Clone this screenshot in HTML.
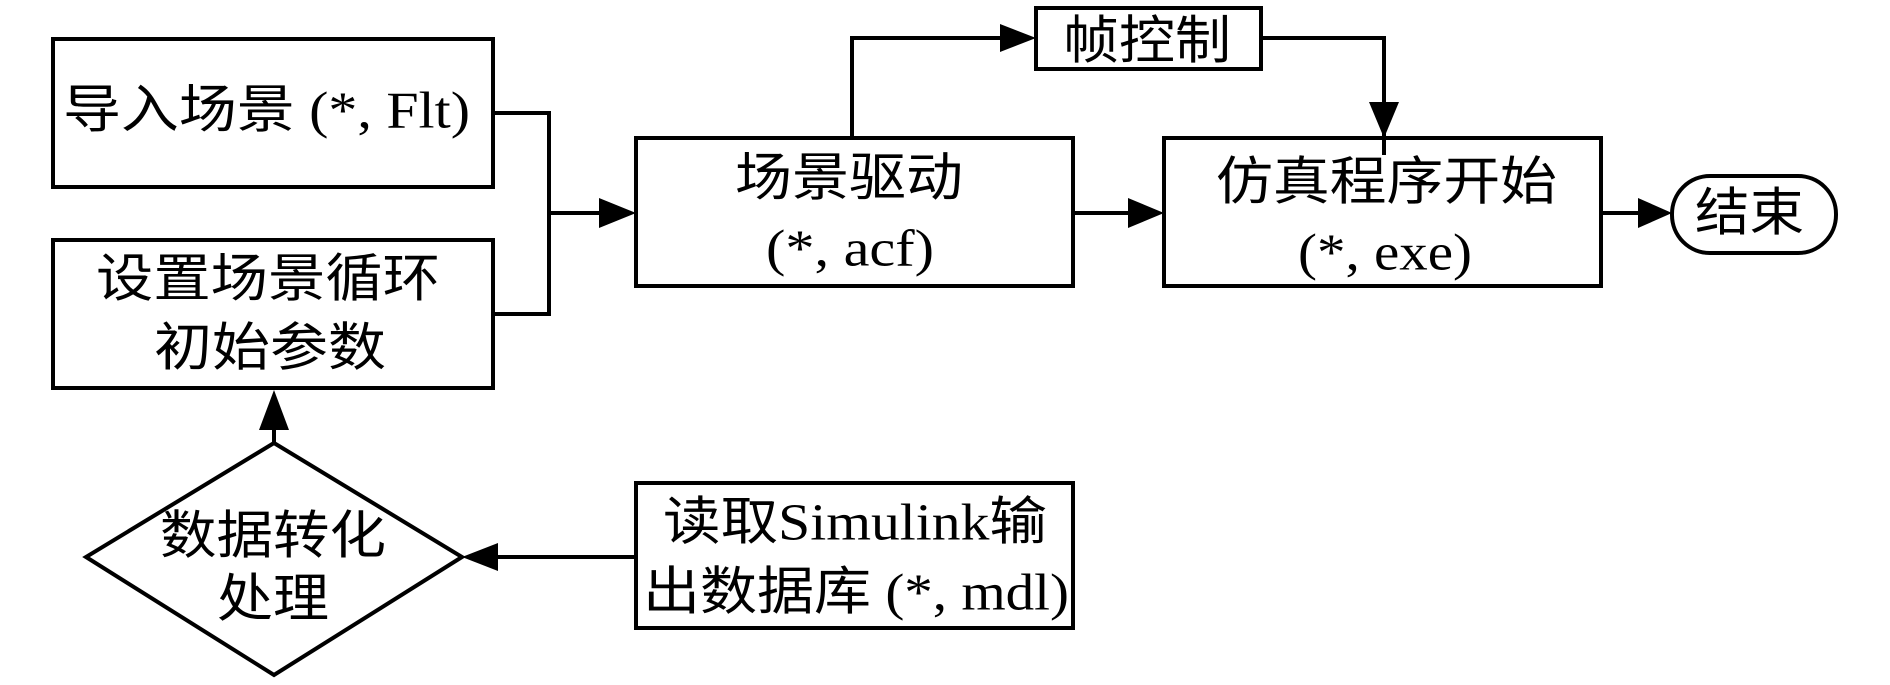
<!DOCTYPE html>
<html><head><meta charset="utf-8"><style>
html,body{margin:0;padding:0;background:#fff;}
svg{display:block;}
text{font-family:"Liberation Serif","Noto Sans CJK SC",serif;font-size:52px;fill:#000;dominant-baseline:central;}
</style></head><body>
<svg width="1890" height="685" viewBox="0 0 1890 685" xmlns="http://www.w3.org/2000/svg">
<g fill="none" stroke="#000" stroke-width="4">
<rect x="53" y="39" width="440" height="148"/>
<rect x="53" y="240" width="440" height="148"/>
<rect x="636" y="138" width="437" height="148"/>
<rect x="1036" y="8" width="225" height="61"/>
<rect x="1164" y="138" width="437" height="148"/>
<rect x="1672" y="176" width="164" height="77" rx="38"/>
<rect x="636" y="483" width="437" height="145"/>
<polygon points="274,443 462,557 274,675 86,557"/>
<polyline points="493,113 549,113 549,314 493,314"/>
<line x1="549" y1="213" x2="600" y2="213"/>
<polyline points="852,138 852,38 1000,38"/>
<polyline points="1261,38 1384,38 1384,155"/>
<line x1="1073" y1="213" x2="1130" y2="213"/>
<line x1="1601" y1="213" x2="1640" y2="213"/>
<line x1="636" y1="557" x2="498" y2="557"/>
<line x1="274" y1="443" x2="274" y2="425"/>
</g>
<g fill="#000">
<polygon points="636,213 599,198 599,228"/>
<polygon points="1036,38 1000,24 1000,52"/>
<polygon points="1384,138 1369,102 1399,102"/>
<polygon points="1164,213 1128,198 1128,228"/>
<polygon points="1672,213 1638,198 1638,228"/>
<polygon points="462,557 498,543 498,571"/>
<polygon points="274,390 259,430 289,430"/>
</g>
<text x="63" y="111" textLength="407" lengthAdjust="spacingAndGlyphs">导入场景 (*, Flt)</text>
<text x="96" y="280" textLength="344" lengthAdjust="spacingAndGlyphs">设置场景循环</text>
<text x="154" y="349" textLength="232" lengthAdjust="spacingAndGlyphs">初始参数</text>
<text x="735" y="179" textLength="228" lengthAdjust="spacingAndGlyphs">场景驱动</text>
<text x="766" y="249" textLength="168" lengthAdjust="spacingAndGlyphs">(*, acf)</text>
<text x="1063" y="42" textLength="168" lengthAdjust="spacingAndGlyphs">帧控制</text>
<text x="1216" y="183" textLength="341" lengthAdjust="spacingAndGlyphs">仿真程序开始</text>
<text x="1298" y="253" textLength="174" lengthAdjust="spacingAndGlyphs">(*, exe)</text>
<text x="1695" y="214" textLength="109" lengthAdjust="spacingAndGlyphs">结束</text>
<text x="160" y="537" textLength="226" lengthAdjust="spacingAndGlyphs">数据转化</text>
<text x="217" y="600" textLength="112" lengthAdjust="spacingAndGlyphs">处理</text>
<text x="663" y="523" textLength="384" lengthAdjust="spacingAndGlyphs">读取Simulink输</text>
<text x="643" y="593" textLength="426" lengthAdjust="spacingAndGlyphs">出数据库 (*, mdl)</text>
</svg>
</body></html>
